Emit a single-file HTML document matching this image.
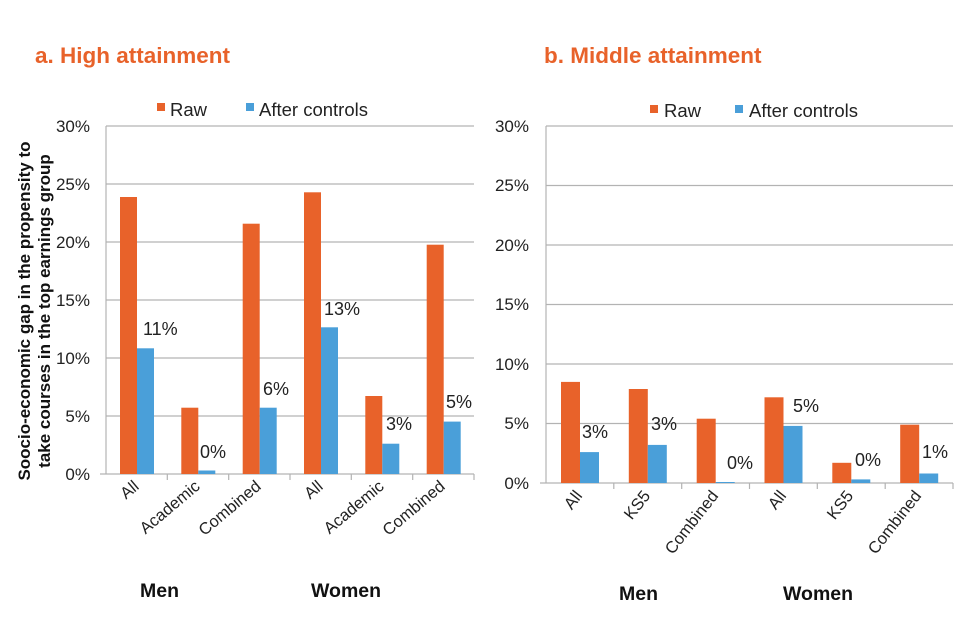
<!DOCTYPE html>
<html><head><meta charset="utf-8"><style>
html,body{margin:0;padding:0;background:#fff;}
svg{display:block;font-family:"Liberation Sans",Arial,sans-serif;}
</style></head><body>
<svg width="960" height="640" viewBox="0 0 960 640" xmlns="http://www.w3.org/2000/svg">
<g font-size="22.5" font-weight="bold" fill="#E8622A">
<text x="35" y="63">a.  High attainment</text>
<text x="544" y="63">b. Middle attainment</text>
</g>
<!-- LEFT -->
<g stroke="#b3b3b3" stroke-width="1.2">
<line x1="106" y1="126" x2="474" y2="126"/><line x1="106" y1="184" x2="474" y2="184"/>
<line x1="106" y1="242" x2="474" y2="242"/><line x1="106" y1="300" x2="474" y2="300"/>
<line x1="106" y1="358" x2="474" y2="358"/><line x1="106" y1="416" x2="474" y2="416"/>
<line x1="100" y1="474" x2="474" y2="474"/><line x1="106" y1="126" x2="106" y2="474"/>
<line x1="167.3" y1="474" x2="167.3" y2="480"/><line x1="228.7" y1="474" x2="228.7" y2="480"/>
<line x1="290" y1="474" x2="290" y2="480"/><line x1="351.3" y1="474" x2="351.3" y2="480"/>
<line x1="412.7" y1="474" x2="412.7" y2="480"/><line x1="474" y1="474" x2="474" y2="480"/>
</g>
<g font-size="17" fill="#222" text-anchor="end">
<text x="90" y="132">30%</text><text x="90" y="190">25%</text><text x="90" y="248">20%</text>
<text x="90" y="306">15%</text><text x="90" y="364">10%</text><text x="90" y="422">5%</text><text x="90" y="480">0%</text>
</g>
<g fill="#E8622A">
<rect x="120" y="197" width="17" height="277"/><rect x="181.3" y="407.7" width="17" height="66.3"/>
<rect x="242.7" y="223.7" width="17" height="250.3"/><rect x="304" y="192.3" width="17" height="281.7"/>
<rect x="365.3" y="396" width="17" height="78"/><rect x="426.7" y="244.7" width="17" height="229.3"/>
</g>
<g fill="#4A9FD9">
<rect x="137" y="348.3" width="17" height="125.7"/><rect x="198.3" y="470.5" width="17" height="3.5"/>
<rect x="259.7" y="407.7" width="17" height="66.3"/><rect x="321" y="327.3" width="17" height="146.7"/>
<rect x="382.3" y="443.7" width="17" height="30.3"/><rect x="443.7" y="421.6" width="17" height="52.4"/>
</g>
<g font-size="18" fill="#222">
<text x="143" y="335">11%</text><text x="200" y="458">0%</text><text x="263" y="395">6%</text>
<text x="324" y="315">13%</text><text x="386" y="430">3%</text><text x="446" y="408">5%</text>
</g>
<g font-size="16.5" fill="#222" text-anchor="end">
<text transform="translate(140,488) rotate(-40)">All</text>
<text transform="translate(201,488) rotate(-40)">Academic</text>
<text transform="translate(262,488) rotate(-40)">Combined</text>
<text transform="translate(324,488) rotate(-40)">All</text>
<text transform="translate(385,488) rotate(-40)">Academic</text>
<text transform="translate(446,488) rotate(-40)">Combined</text>
</g>
<g font-size="19.5" font-weight="bold" fill="#111">
<text x="140" y="597">Men</text><text x="311" y="597">Women</text>
</g>
<g font-size="17" font-weight="bold" fill="#111" text-anchor="middle">
<text transform="translate(30,311) rotate(-90)">Soocio-economic gap in the propensity to</text>
<text transform="translate(50,311) rotate(-90)">take courses in the top earnings group</text>
</g>
<rect x="157" y="103" width="8" height="8" fill="#E8622A"/>
<rect x="246" y="103" width="8" height="8" fill="#4A9FD9"/>
<g font-size="18.5" fill="#222"><text x="170" y="116">Raw</text><text x="259" y="116">After controls</text></g>
<!-- RIGHT -->
<g stroke="#b3b3b3" stroke-width="1.2">
<line x1="546" y1="126" x2="953" y2="126"/><line x1="546" y1="185.5" x2="953" y2="185.5"/>
<line x1="546" y1="245" x2="953" y2="245"/><line x1="546" y1="304.5" x2="953" y2="304.5"/>
<line x1="546" y1="364" x2="953" y2="364"/><line x1="546" y1="423.5" x2="953" y2="423.5"/>
<line x1="540" y1="483" x2="953" y2="483"/><line x1="546" y1="126" x2="546" y2="483"/>
<line x1="613.8" y1="483" x2="613.8" y2="489"/><line x1="681.7" y1="483" x2="681.7" y2="489"/>
<line x1="749.5" y1="483" x2="749.5" y2="489"/><line x1="817.3" y1="483" x2="817.3" y2="489"/>
<line x1="885.2" y1="483" x2="885.2" y2="489"/><line x1="953" y1="483" x2="953" y2="489"/>
</g>
<g font-size="17" fill="#222" text-anchor="end">
<text x="529" y="132">30%</text><text x="529" y="191">25%</text><text x="529" y="251">20%</text>
<text x="529" y="310">15%</text><text x="529" y="370">10%</text><text x="529" y="429">5%</text><text x="529" y="489">0%</text>
</g>
<g fill="#E8622A">
<rect x="561" y="381.9" width="19" height="101.1"/><rect x="628.8" y="389" width="19" height="94"/>
<rect x="696.7" y="418.7" width="19" height="64.3"/><rect x="764.5" y="397.3" width="19" height="85.7"/>
<rect x="832.3" y="462.8" width="19" height="20.2"/><rect x="900.2" y="424.7" width="19" height="58.3"/>
</g>
<g fill="#4A9FD9">
<rect x="580" y="452.1" width="19" height="30.9"/><rect x="647.8" y="444.9" width="19" height="38.1"/>
<rect x="715.7" y="482" width="19" height="1"/><rect x="783.5" y="425.9" width="19" height="57.1"/>
<rect x="851.3" y="479.4" width="19" height="3.6"/><rect x="919.2" y="473.5" width="19" height="9.5"/>
</g>
<g font-size="18" fill="#222">
<text x="582" y="438">3%</text><text x="651" y="430">3%</text><text x="727" y="469">0%</text>
<text x="793" y="412">5%</text><text x="855" y="466">0%</text><text x="922" y="458">1%</text>
</g>
<g font-size="16.5" fill="#222" text-anchor="end">
<text transform="translate(583,496) rotate(-52)">All</text>
<text transform="translate(651,496) rotate(-52)">KS5</text>
<text transform="translate(719,496) rotate(-52)">Combined</text>
<text transform="translate(787,496) rotate(-52)">All</text>
<text transform="translate(854,496) rotate(-52)">KS5</text>
<text transform="translate(922,496) rotate(-52)">Combined</text>
</g>
<g font-size="19.5" font-weight="bold" fill="#111">
<text x="619" y="600">Men</text><text x="783" y="600">Women</text>
</g>
<rect x="650" y="105" width="8" height="8" fill="#E8622A"/>
<rect x="735" y="105" width="8" height="8" fill="#4A9FD9"/>
<g font-size="18.5" fill="#222"><text x="664" y="117">Raw</text><text x="749" y="117">After controls</text></g>
</svg>
</body></html>
